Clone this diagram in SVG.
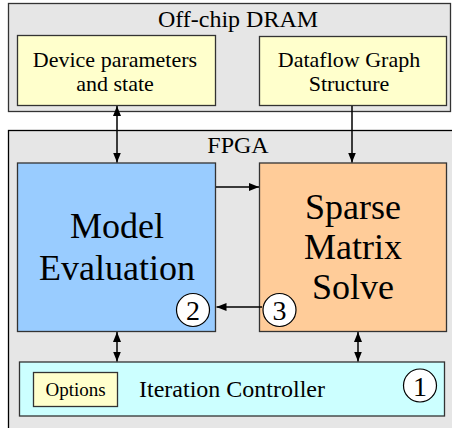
<svg xmlns="http://www.w3.org/2000/svg" width="452" height="428" viewBox="0 0 452 428">
<style>
text{font-family:"Liberation Serif","Times New Roman",serif;fill:#000;text-anchor:middle}
.cont{fill:#e6e6e6;stroke:#333;stroke-width:1.3}
.yel{fill:#ffffcc;stroke:#333;stroke-width:1.3}
.blue{fill:#99ccff;stroke:#333;stroke-width:1.3}
.org{fill:#ffcc99;stroke:#333;stroke-width:1.3}
.cyan{fill:#ccffff;stroke:#333;stroke-width:1.3}
.circ{fill:#fff;stroke:#000;stroke-width:1.2}
.conn{stroke:#000;stroke-width:1.5;fill:none}
</style>
<defs>
<marker id="ah" viewBox="0 0 10 8" refX="10" refY="4" markerWidth="10" markerHeight="8" markerUnits="userSpaceOnUse" orient="auto-start-reverse">
<path d="M0,0 L10,4 L0,8 Z" fill="#000"/>
</marker>
</defs>
<rect width="452" height="428" fill="#fff"/>
<g id="dram">
<rect class="cont" x="8.5" y="3.5" width="442" height="108"/>
<text x="238" y="27" font-size="24">Off-chip DRAM</text>
</g>
<g id="device">
<rect class="yel" x="17.5" y="35.5" width="198" height="70"/>
<text x="115" y="67" font-size="22">Device parameters</text>
<text x="115" y="91" font-size="22">and state</text>
</g>
<g id="dataflow">
<rect class="yel" x="259.5" y="36.5" width="187" height="69"/>
<text x="349" y="67" font-size="22">Dataflow Graph</text>
<text x="349" y="91" font-size="22">Structure</text>
</g>
<g id="fpga">
<rect class="cont" x="8.5" y="130.5" width="460" height="310" style="stroke:#000"/>
<text x="238" y="153" font-size="24">FPGA</text>
</g>
<g id="model">
<rect class="blue" x="17.5" y="163" width="198" height="168.5"/>
<text x="117" y="238" font-size="36">Model</text>
<text x="117" y="280" font-size="36">Evaluation</text>
<circle class="circ" cx="193" cy="310" r="16.5"/>
<text x="193" y="320" font-size="28">2</text>
</g>
<g id="sparse">
<rect class="org" x="259.5" y="163" width="187" height="168.5"/>
<text x="353" y="219" font-size="36">Sparse</text>
<text x="353" y="259" font-size="36">Matrix</text>
<text x="353" y="299" font-size="36">Solve</text>
<circle class="circ" cx="279.5" cy="310" r="16.5"/>
<text x="279.5" y="320" font-size="28">3</text>
</g>
<g id="iteration">
<rect class="cyan" x="19.5" y="362" width="425" height="54"/>
<text x="232" y="397" font-size="24">Iteration Controller</text>
<circle class="circ" cx="420" cy="385.5" r="16.5"/>
<text x="420" y="395.5" font-size="28">1</text>
</g>
<g id="options">
<rect class="yel" x="33.5" y="372.5" width="84" height="34"/>
<text x="75.5" y="396" font-size="19">Options</text>
</g>
<g id="connectors">
<line class="conn" x1="117" y1="106" x2="117" y2="162.5" marker-start="url(#ah)" marker-end="url(#ah)"/>
<line class="conn" x1="352" y1="106" x2="352" y2="162.5" marker-end="url(#ah)"/>
<line class="conn" x1="216" y1="187" x2="259" y2="187" marker-end="url(#ah)"/>
<line class="conn" x1="262" y1="307" x2="216.5" y2="307" marker-end="url(#ah)"/>
<line class="conn" x1="117" y1="332" x2="117" y2="361.5" marker-start="url(#ah)" marker-end="url(#ah)"/>
<line class="conn" x1="358" y1="332" x2="358" y2="361.5" marker-start="url(#ah)" marker-end="url(#ah)"/>
</g>
</svg>
